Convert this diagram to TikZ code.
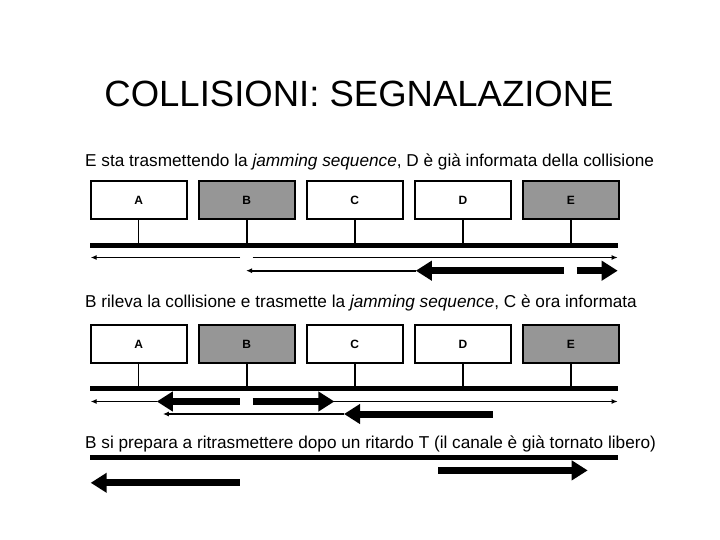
\documentclass[tikz,border=0pt]{standalone}
\usepackage{fontspec}
\setmainfont{Liberation Sans}
\usepackage{tikz}
\usetikzlibrary{arrows.meta}
\definecolor{busygray}{RGB}{150,150,150}

\begin{document}
\begin{tikzpicture}[
  x=1pt, y=-1pt,
  station/.style={draw, line width=1.8pt, minimum width=96pt, minimum height=38pt, inner sep=0pt, font=\fontsize{12}{14}\selectfont\bfseries},
  busy/.style={station, fill=busygray},
  stub/.style={line width=1.5pt},
  bus/.style={line width=5pt},
  thin/.style={line width=1.6pt, -{Latex[length=6pt,width=5pt]}},
  jam/.style={line width=7pt, -{Triangle[length=16pt,width=19pt]}},
  caption/.style={anchor=base west, inner sep=0pt, font=\fontsize{17.2}{20}\selectfont}
]
\useasboundingbox (0,0) rectangle (720,540);
\node[anchor=base, inner sep=0pt, font=\fontsize{36.5}{40}\selectfont] (title) at (359,107) {COLLISIONI: SEGNALAZIONE};

% first phase: E is jamming
\node[caption] (cap1) at (85,167) {E sta trasmettendo la \textit{jamming sequence}, D è già informata della collisione};
\foreach \n/\l/\s [count=\i from 0] in {a/A/station,b/B/busy,c/C/station,d/D/station,e/E/busy}
  \node[\s] (\n1) at (138.7+\i*108.05,200) {\l};
\coordinate (busL1) at (90,245);
\coordinate (busR1) at (618,245);
\draw[bus] (busL1) -- (busR1);
\foreach \n in {a,b,c,d,e}
  \draw[stub] (\n1.south) -- (\n1.south |- busL1);
\draw[thin] (240,257.5) -- (90.7,257.5);
\draw[thin] (252.6,257.5) -- (617.7,257.5);
\draw[thin] (415.8,270.7) -- (246,270.7);
\draw[jam] (564,270.7) -- (415.8,270.7);
\draw[jam] (576.6,270.7) -- (617.7,270.7);

% second phase: B is jamming
\node[caption] (cap2) at (85,307) {B rileva la collisione e trasmette la \textit{jamming sequence}, C è ora informata};
\foreach \n/\l/\s [count=\i from 0] in {a/A/station,b/B/busy,c/C/station,d/D/station,e/E/busy}
  \node[\s] (\n2) at (138.7+\i*108.05,344) {\l};
\coordinate (busL2) at (90,388.6);
\coordinate (busR2) at (618,388.6);
\draw[bus] (busL2) -- (busR2);
\foreach \n in {a,b,c,d,e}
  \draw[stub] (\n2.south) -- (\n2.south |- busL2);
\draw[thin] (156.8,401.5) -- (90.7,401.5);
\draw[thin] (334.4,401.5) -- (617.7,401.5);
\draw[jam] (239.7,401.5) -- (156.8,401.5);
\draw[jam] (252.6,401.5) -- (334.4,401.5);
\draw[thin] (344,414) -- (162.9,414);
\draw[jam] (492.6,414) -- (344,414);

% third phase: channel free again
\node[caption] (cap3) at (85,448) {B si prepara a ritrasmettere dopo un ritardo T (il canale è già tornato libero)};
\draw[bus] (90,457) -- (618,457);
\draw[jam] (438,470.4) -- (587.7,470.4);
\draw[jam] (239.6,482.8) -- (90.7,482.8);
\end{tikzpicture}
\end{document}
